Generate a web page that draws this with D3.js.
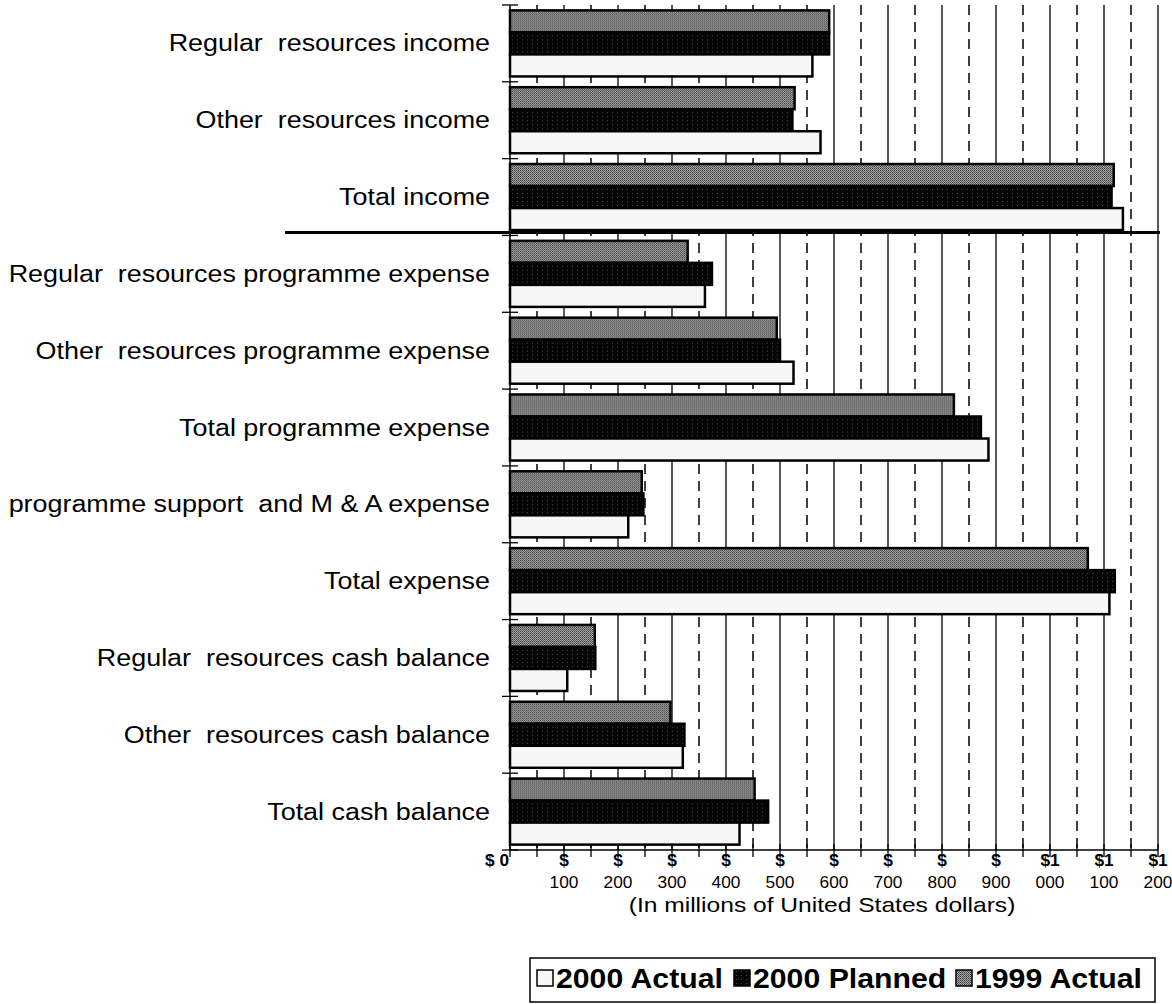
<!DOCTYPE html>
<html>
<head>
<meta charset="utf-8">
<script src="https://d3js.org/d3.v7.min.js"></script>
<style>
    body { margin: 0; background: #fff; }
    text { font-family: "Liberation Sans", Arial, sans-serif; fill: #000; white-space: pre; }
</style>
</head>
<body>
<script>
// categories, top to bottom
var categories = [
    'Regular  resources income',
    'Other  resources income',
    'Total income',
    'Regular  resources programme expense',
    'Other  resources programme expense',
    'Total programme expense',
    'programme support  and M & A expense',
    'Total expense',
    'Regular  resources cash balance',
    'Other  resources cash balance',
    'Total cash balance'
];

// values in millions of US dollars
var actual1999  = [591, 527, 1118, 329, 494, 822, 244, 1070, 157, 297, 453];
var planned2000 = [591, 523, 1114, 374, 500, 872, 247, 1120, 158, 323, 478];
var actual2000  = [560, 575, 1135, 361, 525, 886, 219, 1110, 106, 320, 425];

var seriesNames = ['1999 Actual', '2000 Planned', '2000 Actual'];
var legendOrder = ['2000 Actual', '2000 Planned', '1999 Actual'];

var tickValues = [0, 100, 200, 300, 400, 500, 600, 700, 800, 900, 1000, 1100, 1200];
var tickLabels = [['$ 0'], ['$', '100'], ['$', '200'], ['$', '300'], ['$', '400'], ['$', '500'],
    ['$', '600'], ['$', '700'], ['$', '800'], ['$', '900'], ['$1', '000'], ['$1', '100'], ['$1', '200']];
var gridValues = d3.range(50, 1201, 50);

var svgWidth = 1172, svgHeight = 1004;

var svg = d3.select('body')
    .append('svg')
    .attr('width', svgWidth)
    .attr('height', svgHeight);

var defs = svg.append('defs');

// dithered fills, like the scanned original
var pGray = defs.append('pattern').attr('id', 'pGray')
    .attr('width', 2).attr('height', 2).attr('patternUnits', 'userSpaceOnUse');
pGray.append('rect').attr('width', 2).attr('height', 2).attr('fill', '#a8a8a8');
pGray.append('rect').attr('width', 1).attr('height', 1).attr('fill', '#3c3c3c');
pGray.append('rect').attr('x', 1).attr('y', 1).attr('width', 1).attr('height', 1).attr('fill', '#5a5a5a');

var pDark = defs.append('pattern').attr('id', 'pDark')
    .attr('width', 5).attr('height', 4).attr('patternUnits', 'userSpaceOnUse');
pDark.append('rect').attr('width', 5).attr('height', 4).attr('fill', '#050505');
pDark.append('rect').attr('x', 2).attr('y', 1).attr('width', 1).attr('height', 1).attr('fill', '#444');

var fills = {
    '1999 Actual': 'url(#pGray)',
    '2000 Planned': 'url(#pDark)',
    '2000 Actual': '#f7f7f7'
};

var valuesBySeries = {
    '1999 Actual': actual1999,
    '2000 Planned': planned2000,
    '2000 Actual': actual2000
};

var x = d3.scaleLinear().domain([0, 1200]).range([510, 1158]);

var y = d3.scaleBand()
    .domain(categories)
    .range([5, 850])
    .paddingInner(0.14)
    .paddingOuter(0.07);

var ySub = d3.scaleBand()
    .domain(seriesNames)
    .range([0, y.bandwidth()]);

// gridlines: solid on the hundreds, dashed in between
svg.append('g')
    .selectAll('line')
    .data(gridValues)
    .enter().append('line')
    .attr('x1', function(d) { return x(d); })
    .attr('x2', function(d) { return x(d); })
    .attr('y1', 5)
    .attr('y2', 850)
    .attr('stroke', '#000')
    .attr('stroke-width', function(d) { return d % 100 === 0 ? 1.3 : 1.5; })
    .attr('stroke-dasharray', function(d) { return d % 100 === 0 ? null : '10,7'; });

// bars
var rows = svg.append('g')
    .selectAll('g')
    .data(categories)
    .enter().append('g')
    .attr('transform', function(d) { return 'translate(0,' + y(d) + ')'; });

rows.selectAll('rect')
    .data(function(d, i) {
        return seriesNames.map(function(s) { return { series: s, value: valuesBySeries[s][i] }; });
    })
    .enter().append('rect')
    .attr('x', x(0))
    .attr('y', function(d) { return ySub(d.series); })
    .attr('width', function(d) { return x(d.value) - x(0); })
    .attr('height', ySub.bandwidth())
    .attr('fill', function(d) { return fills[d.series]; })
    .attr('stroke', '#000')
    .attr('stroke-width', 2.5);

// category axis with crossing ticks between groups
var step = y.step();
var edges = d3.range(categories.length + 1).map(function(i) {
    return y(categories[0]) - y.paddingInner() * step / 2 + i * step;
});

svg.append('line')
    .attr('x1', x(0)).attr('x2', x(0))
    .attr('y1', 5).attr('y2', 850)
    .attr('stroke', '#000').attr('stroke-width', 1.5);

svg.append('g')
    .selectAll('line')
    .data(edges)
    .enter().append('line')
    .attr('x1', x(0) - 8)
    .attr('x2', x(0) + 8)
    .attr('y1', function(d) { return d; })
    .attr('y2', function(d) { return d; })
    .attr('stroke', '#000')
    .attr('stroke-width', 1.3);

// divider between income and expense
svg.append('line')
    .attr('x1', 285).attr('x2', 1160)
    .attr('y1', edges[3] - 3).attr('y2', edges[3] - 3)
    .attr('stroke', '#000').attr('stroke-width', 3);

// category labels (the scan is a bit wide, so stretch horizontally)
svg.append('g')
    .selectAll('text')
    .data(categories)
    .enter().append('text')
    .attr('transform', function(d) {
        return 'translate(490,' + (y(d) + y.bandwidth() / 2 + 8) + ') scale(1.17,1)';
    })
    .attr('text-anchor', 'end')
    .style('font-size', '23px')
    .text(function(d) { return d; });

// value axis
var xAxis = svg.append('g');

xAxis.append('line')
    .attr('x1', x(0)).attr('x2', x(1200))
    .attr('y1', 850).attr('y2', 850)
    .attr('stroke', '#000').attr('stroke-width', 1.5);

xAxis.selectAll('line.tick')
    .data([0].concat(gridValues))
    .enter().append('line')
    .attr('class', 'tick')
    .attr('x1', function(d) { return x(d); })
    .attr('x2', function(d) { return x(d); })
    .attr('y1', 844)
    .attr('y2', 857)
    .attr('stroke', '#000')
    .attr('stroke-width', 1.3);

var labels = xAxis.selectAll('g.lbl')
    .data(tickValues)
    .enter().append('g')
    .attr('class', 'lbl')
    .attr('transform', function(d, i) {
        return 'translate(' + (x(d) + (i === 0 ? -13 : 0)) + ',0) scale(1.08,1)';
    });

labels.append('text')
    .attr('y', 866)
    .attr('text-anchor', 'middle')
    .style('font-size', '16px')
    .style('font-weight', 'bold')
    .text(function(d, i) { return tickLabels[i][0]; });

labels.append('text')
    .attr('y', 888)
    .attr('text-anchor', 'middle')
    .style('font-size', '16px')
    .text(function(d, i) { return tickLabels[i][1] || ''; });

// axis title
svg.append('text')
    .attr('transform', 'translate(822,912) scale(1.2,1)')
    .attr('text-anchor', 'middle')
    .style('font-size', '20.5px')
    .text('(In millions of United States dollars)');

// legend
var legend = svg.append('g');

legend.append('rect')
    .attr('x', 530).attr('y', 958)
    .attr('width', 625).attr('height', 44)
    .attr('fill', '#fff')
    .attr('stroke', '#000')
    .attr('stroke-width', 1.5);

var legendWidths = [168, 193, 168];
var legendX = [537];
legendWidths.forEach(function(w, i) {
    if (i < 2) legendX.push(legendX[i] + 19 + w + 10);
});

var items = legend.selectAll('g.item')
    .data(legendOrder)
    .enter().append('g')
    .attr('class', 'item')
    .attr('transform', function(d, i) { return 'translate(' + legendX[i] + ',970)'; });

items.append('rect')
    .attr('width', 16).attr('height', 16)
    .attr('fill', function(d) { return fills[d]; })
    .attr('stroke', '#000')
    .attr('stroke-width', 1.5);

items.append('text')
    .attr('transform', 'translate(19,18) scale(1.12,1)')
    .style('font-size', '27px')
    .style('font-weight', 'bold')
    .text(function(d) { return d; });
</script>
</body>
</html>
